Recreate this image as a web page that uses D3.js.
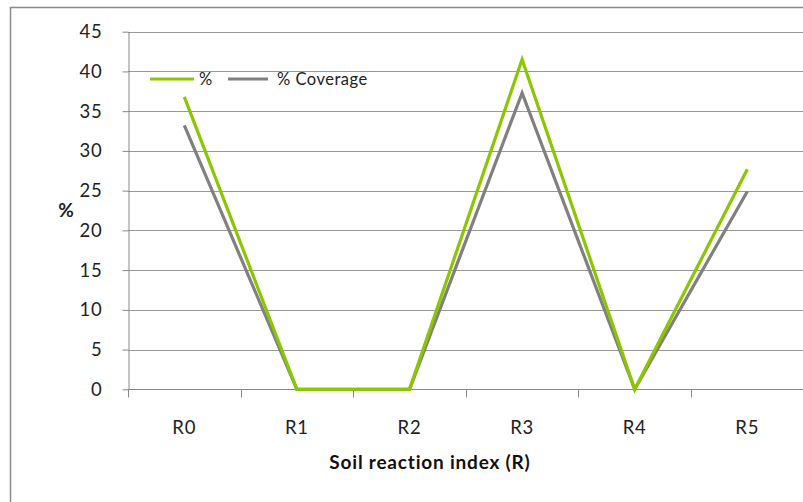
<!DOCTYPE html>
<html><head><meta charset="utf-8">
<script src="https://cdn.jsdelivr.net/npm/d3@7"></script>
<style>body{margin:0;background:#fff;} text{font-family:Lato,"Open Sans",sans-serif;}</style>
</head><body>
<svg id="c" width="803" height="502"></svg>
<script>
const categories = ["R0","R1","R2","R3","R4","R5"];
const seriesPercent = [36.8, 0, 0, 41.5, 0, 27.7];
const seriesCoverage = [33.2, 0, 0, 37.3, 0, 24.9];
const yTicks = [0,5,10,15,20,25,30,35,40,45];
const seriesNames = ["%", "% Coverage"];
const colors = ["#8cc600", "#808080"];

(function(){
const svg = d3.select("#c");
// outer chart border
svg.append("rect").attr("x",10.5).attr("y",7.5).attr("width",820).attr("height",520)
  .attr("fill","none").attr("stroke","#8a8a8a").attr("stroke-width",1.5);

const mL = 128, mR = 803.6, mT = 31.7, mB = 389.3;
const x = d3.scaleBand().domain(categories).range([mL, mR]);
const y = d3.scaleLinear().domain([0,45]).range([mB, mT]);

// gridlines
svg.append("g").selectAll("line").data(yTicks.filter(d=>d>0)).join("line")
  .attr("x1",mL).attr("x2",803).attr("y1",d=>Math.round(y(d))+0.5).attr("y2",d=>Math.round(y(d))+0.5)
  .attr("stroke","#999").attr("stroke-width",1);

// y axis
const yAxis = d3.axisLeft(y).tickValues(yTicks).tickSize(6).tickPadding(20).tickSizeOuter(0);
const gy = svg.append("g").attr("transform",`translate(${mL+0.5},0)`).call(yAxis);
gy.select(".domain").attr("stroke","#888");
gy.selectAll(".tick line").attr("stroke","#888");
gy.selectAll(".tick text").attr("font-size",18.5).attr("letter-spacing","0.8px").attr("fill","#222")
  .attr("font-family","Lato, sans-serif");

// x axis
const xTickPos = categories.map(c=>x(c)).concat([mR]);
const gx = svg.append("g").attr("transform",`translate(0,${Math.round(mB)+0.5})`);
gx.append("line").attr("x1",mL).attr("x2",803).attr("stroke","#888");
gx.selectAll("line.t").data(xTickPos).join("line").attr("class","t")
  .attr("x1",d=>Math.round(d)+0.5).attr("x2",d=>Math.round(d)+0.5).attr("y1",0).attr("y2",8).attr("stroke","#888");
gx.selectAll("text").data(categories).join("text")
  .attr("x",d=>x(d)+x.bandwidth()/2).attr("y",44).attr("text-anchor","middle")
  .attr("font-size",18.5).attr("letter-spacing","0.8px").attr("fill","#222").text(d=>d);

// axis titles
svg.append("text").attr("x",66).attr("y",217).attr("text-anchor","middle")
  .attr("font-size",19).attr("font-weight","bold").attr("fill","#222").text("%");
svg.append("text").attr("x",430).attr("y",469).attr("text-anchor","middle")
  .attr("font-size",19).attr("letter-spacing","0.8px").attr("font-weight","bold").attr("fill","#111").text("Soil reaction index (R)");

// lines
const line = d3.line().x((d,i)=>x(categories[i])+x.bandwidth()/2).y(d=>y(d));
[seriesCoverage, seriesPercent].forEach((s,k)=>{
  svg.append("path").datum(s).attr("d",line).attr("fill","none")
    .attr("stroke", k===0?colors[1]:colors[0]).attr("stroke-width",3.2).attr("stroke-linejoin","miter");
});

// legend
const leg = svg.append("g");
const legItems = [{x1:150,x2:194,tx:199},{x1:228,x2:268,tx:277}];
legItems.forEach((it,i)=>{
  leg.append("line").attr("x1",it.x1).attr("x2",it.x2).attr("y1",79).attr("y2",79)
    .attr("stroke",colors[i]).attr("stroke-width",3.2);
  leg.append("text").attr("x",it.tx).attr("y",84.5).attr("font-size",16.5).attr("letter-spacing","0.5px").attr("fill","#222").text(seriesNames[i]);
});
})();
</script>
</body></html>
